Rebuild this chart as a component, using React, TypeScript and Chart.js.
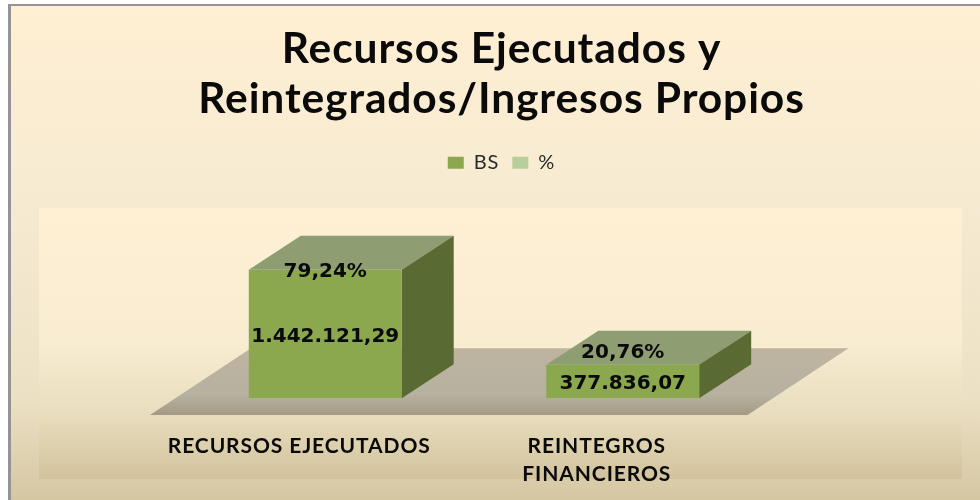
import React, { useEffect, useRef } from "react";
import { Chart, registerables } from "chart.js";

Chart.register(...registerables);

const titleLines = ["Recursos Ejecutados y", "Reintegrados/Ingresos Propios"];
const categories = [["RECURSOS EJECUTADOS"], ["REINTEGROS", "FINANCIEROS"]];
const seriesNames = ["BS", "%"];
const bsValues = [1442121.29, 377836.07];
const pctValues = [79.24, 20.76];
const bsLabels = ["1.442.121,29", "377.836,07"];
const pctLabels = ["79,24%", "20,76%"];
const yMax = 2418000;

const DEPTH_X = 52;
const DEPTH_Y = 34;
const LABEL_SHIFT_BS = [2.5, 2];
const LABEL_SHIFT_PCT = [2, -11.5];

function poly(ctx: CanvasRenderingContext2D, pts: number[][], fill: string | CanvasGradient) {
  ctx.beginPath();
  pts.forEach((p, i) => (i ? ctx.lineTo(p[0], p[1]) : ctx.moveTo(p[0], p[1])));
  ctx.closePath();
  ctx.fillStyle = fill;
  ctx.fill();
}

const scenePlugin = {
  id: "scene",
  beforeLayout(chart: any) {
    chart.ctx.letterSpacing = "0.9px";
  },
  beforeDraw(chart: any) {
    const { ctx, width, height } = chart;
    ctx.save();
    ctx.fillStyle = "#ffffff";
    ctx.fillRect(0, 0, width, height);
    const bg = ctx.createLinearGradient(0, 6, 0, height);
    bg.addColorStop(0, "#FFEFD3");
    bg.addColorStop(0.4, "#F6EBD2");
    bg.addColorStop(0.8, "#ECE0C4");
    bg.addColorStop(1, "#D5C7A2");
    ctx.fillStyle = bg;
    ctx.fillRect(10, 5, width - 10, height - 5);
    ctx.fillStyle = "#949494";
    ctx.fillRect(8, 4, width - 8, 2);
    ctx.fillRect(8, 4, 3, height - 4);
    const band = ctx.createLinearGradient(0, 208, 0, 479);
    band.addColorStop(0, "#FFF0D4");
    band.addColorStop(0.5, "#F8ECD1");
    band.addColorStop(0.75, "#E9DEBF");
    band.addColorStop(1, "#D2C39D");
    ctx.fillStyle = band;
    ctx.fillRect(39, 208, 923, 271);
    ctx.restore();
  },
  beforeDatasetsDraw(chart: any) {
    const { ctx, chartArea, scales } = chart;
    const base = scales.y.getPixelForValue(0);
    ctx.save();
    const fl = base + 16.7;
    const bk = base - 50;
    const floor = ctx.createLinearGradient(0, bk, 0, fl);
    floor.addColorStop(0, "#BFB4A0");
    floor.addColorStop(0.7, "#B6B1A0");
    floor.addColorStop(1, "#A39A84");
    poly(
      ctx,
      [
        [chartArea.left - 26.5, fl],
        [chartArea.right - 24, fl],
        [chartArea.right + 77, bk],
        [chartArea.left + 74.5, bk],
      ],
      floor
    );
    chart.getDatasetMeta(0).data.forEach((bar: any) => {
      const l = bar.x - bar.width / 2;
      const r = bar.x + bar.width / 2;
      poly(ctx, [[l, bar.y], [r, bar.y], [r + DEPTH_X, bar.y - DEPTH_Y], [l + DEPTH_X, bar.y - DEPTH_Y]], "#8E9D72");
      poly(ctx, [[r, bar.y], [r + DEPTH_X, bar.y - DEPTH_Y], [r + DEPTH_X, bar.base - DEPTH_Y], [r, bar.base]], "#596A32");
    });
    ctx.restore();
  },
  afterDatasetsDraw(chart: any) {
    const { ctx } = chart;
    ctx.save();
    ctx.letterSpacing = "0px";
    ctx.font = "bold 20px 'DejaVu Sans'";
    ctx.fillStyle = "#0a0a0a";
    ctx.textAlign = "center";
    ctx.textBaseline = "middle";
    chart.getDatasetMeta(0).data.forEach((bar: any, i: number) => {
      ctx.fillText(bsLabels[i], bar.x, (bar.y + bar.base) / 2 + LABEL_SHIFT_BS[i]);
      ctx.fillText(pctLabels[i], bar.x, bar.y + LABEL_SHIFT_PCT[i]);
    });
    ctx.restore();
  },
};

export default function App() {
  const ref = useRef<HTMLCanvasElement>(null);
  useEffect(() => {
    const hiddenSide = (w: number) => ({
      display: true,
      grid: { display: false },
      border: { display: false },
      ticks: { display: false },
      afterFit: (s: any) => {
        s.width = w;
      },
    });
    const chart = new Chart(ref.current!, {
      type: "bar",
      plugins: [scenePlugin],
      data: {
        labels: categories as any,
        datasets: [
          { label: seriesNames[0], data: bsValues, backgroundColor: "#8BA84F" },
          { label: seriesNames[1], data: pctValues, backgroundColor: "#B8CF9A" },
        ],
      },
      options: {
        animation: false,
        responsive: false,
        devicePixelRatio: 1,
        layout: { padding: { left: 23, right: 0, top: 0, bottom: 0 } },
        datasets: { bar: { barPercentage: 0.514, categoryPercentage: 1 } },
        plugins: {
          tooltip: { enabled: false },
          title: {
            display: true,
            text: titleLines,
            color: "#0a0a0a",
            font: { family: "Lato", weight: "bold", size: 42.5, lineHeight: 1.18 },
            padding: { top: 24, bottom: 15.5 },
          },
          legend: {
            display: true,
            position: "top",
            labels: {
              color: "#2a2a2a",
              font: { family: "Lato", size: 20 },
              boxWidth: 16,
              boxHeight: 12,
              padding: 13,
            },
          },
        },
        scales: {
          x: {
            stacked: true,
            grid: { display: false },
            border: { display: false },
            afterFit: (s: any) => {
              s.height = 101.7;
            },
            ticks: {
              color: "#0a0a0a",
              font: { family: "Lato", weight: "bold", size: 21, lineHeight: 1.33 },
              maxRotation: 0,
              autoSkip: false,
              labelOffset: -26,
              padding: 26,
            },
          },
          y: { stacked: true, min: 0, max: yMax, position: "left", ...hiddenSide(153.5) },
          yRight: { position: "right", ...hiddenSide(208.5) },
        },
      },
    } as any);
    return () => chart.destroy();
  }, []);
  return (
    <div style={{ position: "fixed", left: 0, top: 0, width: 980, height: 500 }}>
      <canvas ref={ref} width={980} height={500} style={{ display: "block" }} />
    </div>
  );
}
